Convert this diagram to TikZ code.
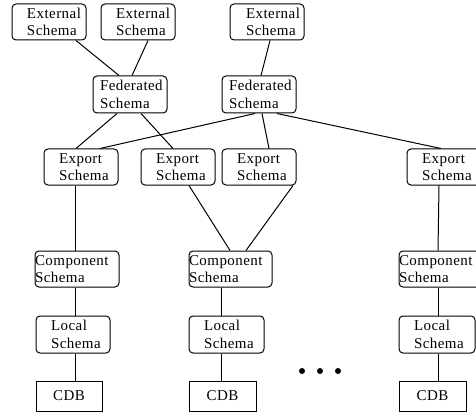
\documentclass[tikz,border=0pt]{standalone}
\usepackage{fontspec}
\setmainfont{Liberation Serif}[LetterSpace=3]
\begin{document}
\begin{tikzpicture}[x=1pt,y=-1pt,
  font=\fontsize{15}{17.5}\selectfont,
  box/.style={draw, line width=1pt, rounded corners=4pt, minimum height=36pt,
    align=left, inner ysep=0pt},
  sbox/.style={draw, line width=0.9pt, minimum height=30pt, minimum width=#1, inner sep=0pt},
  conn/.style={line width=1pt}]
\useasboundingbox (0,0) rectangle (476,414);
\node[box, inner xsep=15pt, text width=44pt] (e1) at (49,22) {External\\Schema};
\node[box, inner xsep=15pt, text width=44pt] (e2) at (138,22) {External\\Schema};
\node[box, inner xsep=16pt, text width=42pt] (e3) at (267,22) {External\\Schema};
\node[box, inner xsep=7pt, text width=60pt, minimum height=37pt] (f1) at (130,94.5) {Federated\\Schema};
\node[box, inner xsep=7pt, text width=60pt, minimum height=37pt] (f2) at (259,94.5) {Federated\\Schema};
\node[box, inner xsep=15pt, text width=44pt] (x1) at (81,167) {Export\\Schema};
\node[box, inner xsep=15pt, text width=44pt] (x2) at (178,167) {Export\\Schema};
\node[box, inner xsep=15pt, text width=44pt] (x3) at (259,167) {Export\\Schema};
\node[box, inner xsep=15pt, text width=44pt] (x4) at (444,167) {Export\\Schema};
\node[box, inner xsep=0pt, text width=84pt] (c1) at (77,269) {Component\\Schema};
\node[box, inner xsep=0pt, text width=83pt] (c2) at (230.5,269) {Component\\Schema};
\node[box, inner xsep=0pt, text width=84pt] (c3) at (441,269) {Component\\Schema};
\node[box, inner xsep=15pt, text width=44pt, minimum height=37pt] (l1) at (73,334.5) {Local\\Schema};
\node[box, inner xsep=15pt, text width=45pt, minimum height=37pt] (l2) at (226.5,334.5) {Local\\Schema};
\node[box, inner xsep=15pt, text width=46pt, minimum height=37pt] (l3) at (437,334.5) {Local\\Schema};
\node[sbox=66pt] (d1) at (69,396) {CDB};
\node[sbox=67pt] (d2) at (222.5,396) {CDB};
\node[sbox=67pt] (d3) at (432.5,396) {CDB};
\foreach \px in {302,320,338} \fill (\px,371) circle (3pt);
% connectors
\draw[conn] ([xshift=27pt]e1.south) -- ([xshift=-11pt]f1.north);
\draw[conn] ([xshift=10pt]e2.south) -- ([xshift=2pt]f1.north);
\draw[conn] ([xshift=3pt]e3.south) -- ([xshift=2pt]f2.north);
\draw[conn] ([xshift=-13pt]f1.south) -- ([xshift=-5pt]x1.north);
\draw[conn] ([xshift=11pt]f1.south) -- ([xshift=-5pt]x2.north);
\draw[conn] ([xshift=-4pt]f2.south) -- ([xshift=19pt]x1.north);
\draw[conn] ([xshift=3pt]f2.south) -- ([xshift=10pt]x3.north);
\draw[conn] ([xshift=18pt]f2.south) -- ([xshift=-3pt]x4.north);
\draw[conn] ([xshift=-6pt]x1.south) -- ([xshift=-2pt]c1.north);
\draw[conn] ([xshift=-2pt]c1.south) -- ([xshift=2pt]l1.north);
\draw[conn] ([xshift=2pt]l1.south) -- ([xshift=6pt]d1.north);
\draw[conn] ([xshift=11pt]x2.south) -- ([xshift=-0.5pt]c2.north);
\draw[conn] ([xshift=34pt]x3.south) -- ([xshift=15.5pt]c2.north);
\draw[conn] ([xshift=-9.5pt]c2.south) -- ([xshift=-5.5pt]l2.north);
\draw[conn] ([xshift=-5.5pt]l2.south) -- ([xshift=-1.5pt]d2.north);
\draw[conn] ([xshift=-5pt]x4.south) -- ([xshift=-3pt]c3.north);
\draw[conn] ([xshift=-3pt]c3.south) -- ([xshift=1pt]l3.north);
\draw[conn] ([xshift=1pt]l3.south) -- ([xshift=5.5pt]d3.north);
\end{tikzpicture}
\end{document}
